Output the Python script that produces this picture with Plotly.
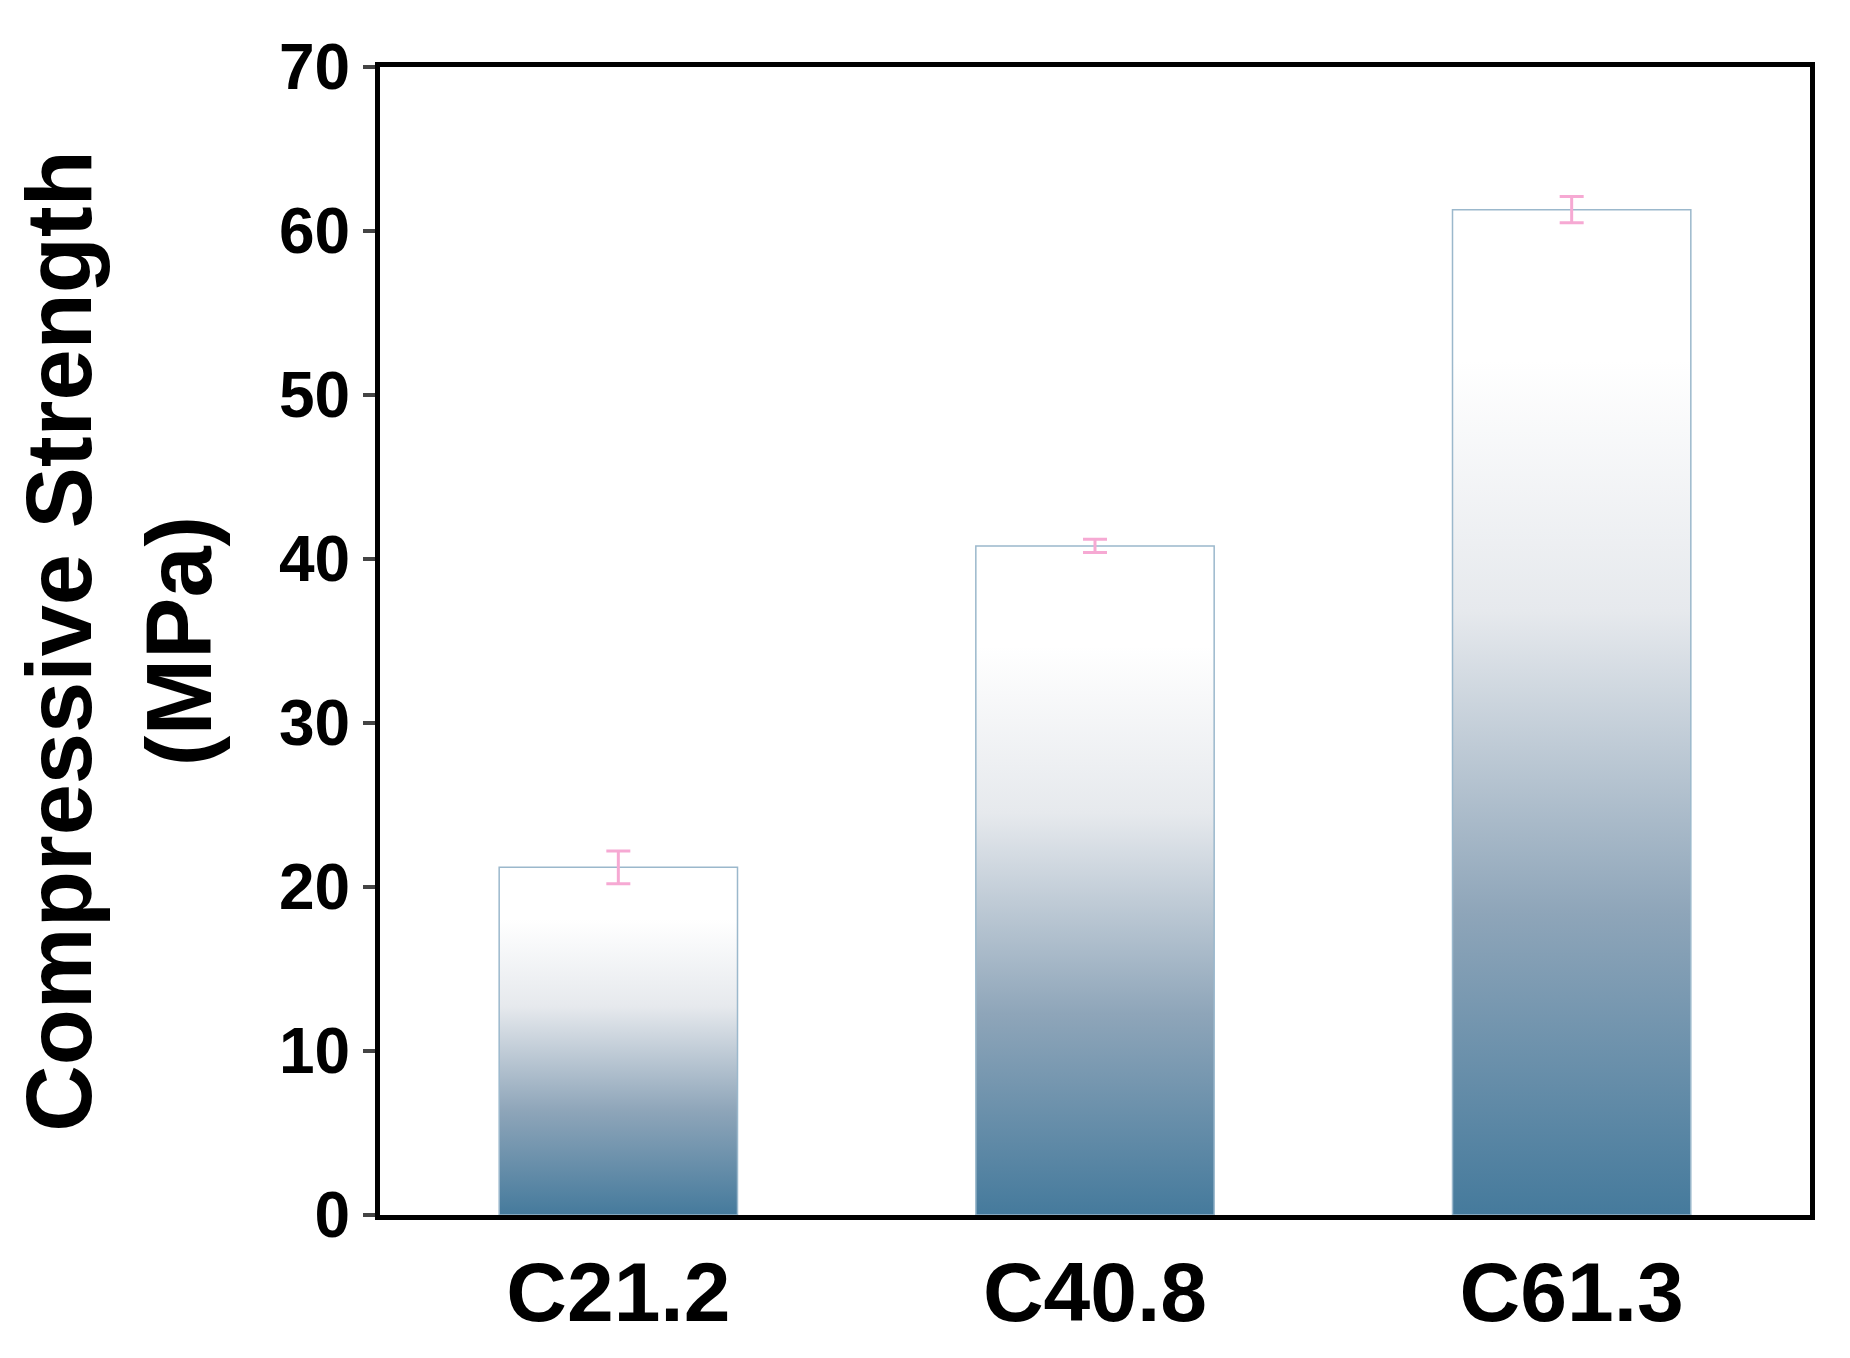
import plotly.graph_objects as go

categories = ["C21.2", "C40.8", "C61.3"]
strength = [21.2, 40.8, 61.3]
errors = [1.0, 0.4, 0.8]

bar_width = 0.5
fig = go.Figure()

for i, val in enumerate(strength):
    x0, x1 = i - bar_width / 2, i + bar_width / 2
    fig.add_trace(go.Scatter(
        x=[x0, x1, x1, x0, x0], y=[0, 0, val, val, 0],
        mode="lines", fill="toself",
        line=dict(color="#9bb8cc", width=1.5),
        fillgradient=dict(type="vertical", start=0, stop=val,
                          colorscale=[[0, "#457a9c"], [0.3, "#8ea5b9"],
                                      [0.6, "#e6e9ed"], [0.85, "#ffffff"], [1, "#ffffff"]]),
        showlegend=False, hoverinfo="skip"))

fig.add_trace(go.Scatter(
    x=list(range(len(categories))), y=strength, mode="markers",
    marker=dict(size=1, color="rgba(0,0,0,0)"),
    error_y=dict(type="data", array=errors, color="#f6a9d3", thickness=3, width=12),
    showlegend=False))

axis_font = dict(family="Liberation Sans", size=64, color="black")
fig.update_layout(
    width=1850, height=1358,
    margin=dict(l=372, r=48, t=59, b=151),
    plot_bgcolor="white", paper_bgcolor="white",
    font=dict(family="Liberation Sans", color="black"),
    xaxis=dict(range=[-0.5, 2.5], tickvals=[0, 1, 2], ticktext=[f"<b>{c}</b>" for c in categories],
               tickfont=dict(family="Liberation Sans", size=84, color="black"),
               showline=True, linecolor="black", linewidth=5, mirror=True,
               ticks="", showgrid=False, zeroline=False),
    yaxis=dict(range=[0, 70], tickvals=list(range(0, 71, 10)),
               ticktext=[f"<b>{v}</b>" for v in range(0, 71, 10)],
               tickfont=axis_font,
               showline=True, linecolor="black", linewidth=5, mirror=True,
               ticks="outside", ticklen=12, tickwidth=4, showgrid=False, zeroline=False,
               title=dict(text="<b>Compressive Strength<br>(MPa)</b>",
                          font=dict(family="Liberation Sans", size=92, color="black"),
                          standoff=40)),
)

fig.write_html("out.html")
